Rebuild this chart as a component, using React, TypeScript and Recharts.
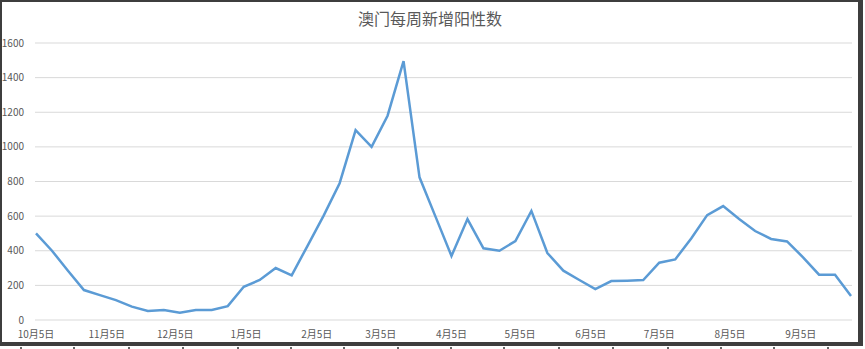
import React from 'react';
import { LineChart, Line, XAxis, YAxis, CartesianGrid } from 'recharts';

// Weekly new positive cases in Macau (starting 10月5日)
const weekDays = [
  0, 7, 14, 21, 28, 35, 42, 49, 56, 63, 70, 77, 84, 91, 98, 105, 112, 119, 126,
  133, 140, 147, 154, 161, 168, 175, 182, 189, 196, 203, 210, 217, 224, 231, 238,
  245, 252, 259, 266, 273, 280, 287, 294, 301, 308, 315, 322, 329, 336, 343, 350, 357,
];
const weeklyPositives = [
  500, 400, 285, 173, 144, 115, 77, 52, 58, 42, 58, 58, 80, 192, 231, 300, 258, 430,
  603, 790, 1097, 1000, 1180, 1495, 824, 597, 370, 583, 414, 400, 456, 630, 387, 285,
  231, 179, 225, 227, 231, 331, 350, 471, 606, 658, 583, 514, 468, 454, 362, 262, 262, 139,
];
const tickDays = [0, 31, 61, 92, 123, 151, 182, 212, 243, 273, 304, 335];
const tickLabels = [
  '10月5日', '11月5日', '12月5日', '1月5日', '2月5日', '3月5日',
  '4月5日', '5月5日', '6月5日', '7月5日', '8月5日', '9月5日',
];
const yTicks = [0, 200, 400, 600, 800, 1000, 1200, 1400, 1600];
const title = '澳门每周新增阳性数';

const data = weekDays.map((d, i) => ({ day: d, value: weeklyPositives[i] }));

const FONT = '"Noto Sans CJK SC", "Noto Sans", sans-serif';
const markXs = [20, 73, 128, 182, 237, 290, 343, 397, 450, 503, 558, 612, 667, 720, 773, 827];

export default function App() {
  return (
    <div style={{ position: 'absolute', left: 0, top: 0, width: 865, height: 349, background: '#fff', overflow: 'hidden' }}>
      <div
        style={{
          position: 'absolute', left: 0, top: 0, width: 863, height: 346, boxSizing: 'border-box',
          borderStyle: 'solid', borderColor: '#3e3e3e',
          borderLeftWidth: 2, borderTopWidth: 2, borderRightWidth: 5, borderBottomWidth: 4,
        }}
      />
      {markXs.map((x) => (
        <div key={x} style={{ position: 'absolute', left: x, top: 347, width: 2, height: 2, background: '#666' }} />
      ))}
      <div
        style={{
          position: 'absolute', left: 0, top: 7, width: 860, height: 22, lineHeight: '22px',
          textAlign: 'center', fontFamily: FONT, fontSize: 16, color: '#595959',
        }}
      >
        {title}
      </div>
      <div style={{ position: 'absolute', left: 0, top: 0 }}>
        <LineChart width={865} height={349} data={data} margin={{ top: 43, right: 13, bottom: 0, left: 0 }}>
          <CartesianGrid horizontal vertical={false} stroke="#d9d9d9" strokeWidth={1} />
          <XAxis
            dataKey="day"
            type="number"
            domain={[0, 357]}
            ticks={tickDays}
            tickFormatter={(v: number) => tickLabels[tickDays.indexOf(v)] ?? ''}
            axisLine={false}
            tickLine={false}
            height={29}
            padding={{ left: 1, right: 1 }}
            interval={0}
            tick={{ fill: '#595959', fontSize: 10, fontFamily: FONT }}
            tickMargin={5}
          />
          <YAxis
            domain={[0, 1600]}
            ticks={yTicks}
            axisLine={false}
            tickLine={false}
            width={35}
            tickMargin={5}
            interval={0}
            tick={{ fill: '#595959', fontSize: 10, fontFamily: FONT }}
          />
          <Line
            type="linear"
            dataKey="value"
            stroke="#5b9bd5"
            strokeWidth={2.5}
            dot={false}
            isAnimationActive={false}
          />
        </LineChart>
      </div>
    </div>
  );
}
